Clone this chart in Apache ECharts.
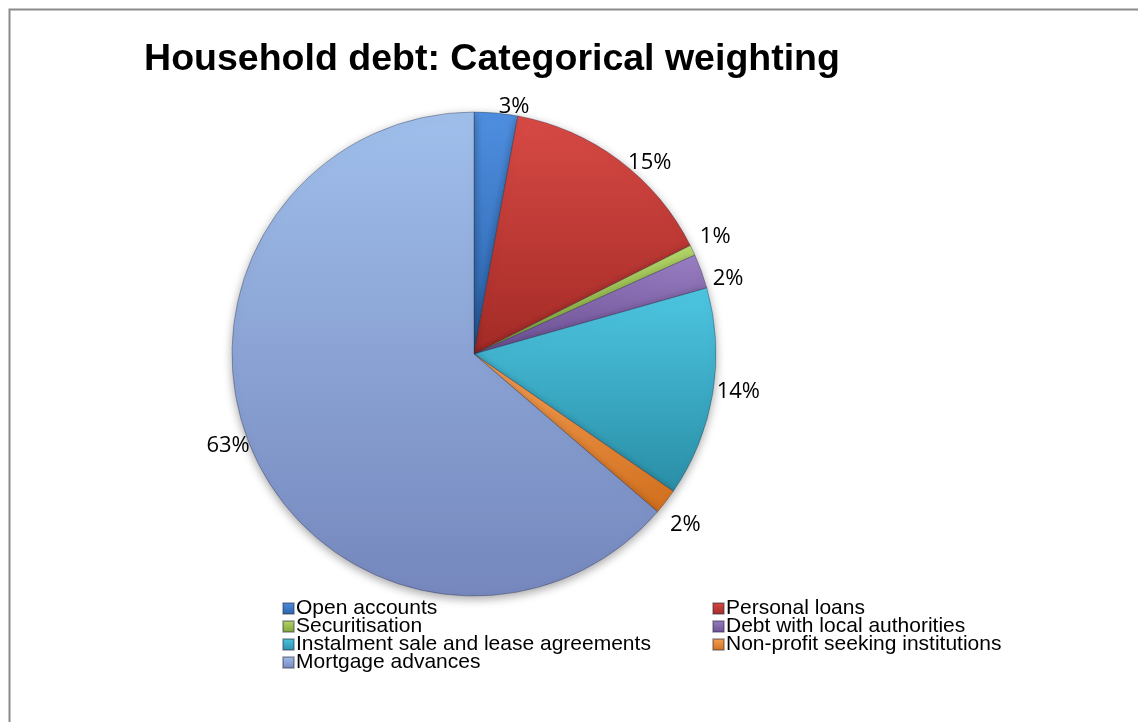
<!DOCTYPE html>
<html>
<head>
<meta charset="utf-8">
<script src="https://cdn.jsdelivr.net/npm/echarts@6/dist/echarts.min.js"></script>
<style>
html,body{margin:0;padding:0;background:#fff;}
#chart{width:1138px;height:722px;}
</style>
</head>
<body>
<div id="chart"></div>
<script>
const categories = [
  'Open accounts',
  'Personal loans',
  'Securitisation',
  'Debt with local authorities',
  'Instalment sale and lease agreements',
  'Non-profit seeking institutions',
  'Mortgage advances'
];
const shares = [2.9, 14.7, 0.7, 2.3, 14.0, 1.7, 63.7];
const percentLabels = ['3%', '15%', '1%', '2%', '14%', '2%', '63%'];
const legendLeft = ['Open accounts', 'Securitisation', 'Instalment sale and lease agreements', 'Mortgage advances'];
const legendRight = ['Personal loans', 'Debt with local authorities', 'Non-profit seeking institutions'];

const palette = [
  ['#4f8fe0', '#2a62aa'],
  ['#d84a45', '#a32a26'],
  ['#b5d86a', '#7fa33a'],
  ['#9a7fc4', '#6a4e92'],
  ['#4dc6e2', '#2a8ea6'],
  ['#f7a156', '#d06e1c'],
  ['#a0bfeb', '#7587bd']
];
const labelShift = [[2,2],[4,9],[0,-10],[3,8],[-4,-3],[-2,18],[3,-13]];
function grad(c){
  return new echarts.graphic.LinearGradient(0,0,0,1,[{offset:0,color:c[0]},{offset:1,color:c[1]}]);
}
const data = categories.map((n,i)=>({
  name:n, value:shares[i],
  itemStyle:{color:grad(palette[i])},
  label:{formatter:percentLabels[i]}
}));

const chart = echarts.init(document.getElementById('chart'));
const legendText = {fontFamily:'Liberation Sans, Arial, sans-serif', fontSize:21, color:'#000', padding:[0,0,0,-3]};
chart.setOption({
  animation:false,
  backgroundColor:'#fff',
  title:{
    text:'Household debt: Categorical weighting',
    left:487, top:36, textAlign:'center',
    textStyle:{fontFamily:'Liberation Sans, Arial, sans-serif', fontWeight:'bold', fontSize:37.5, color:'#000'}
  },
  graphic:[{
    type:'rect', left:7, top:7,
    shape:{x:0,y:0,width:1200,height:800},
    style:{fill:'none', stroke:'#8a8a8a', lineWidth:2}
  }],
  legend:[{
    data:legendLeft, orient:'vertical', left:282, top:598, padding:0,
    icon:'rect', itemWidth:11, itemHeight:11, itemGap:-3,
    textStyle:legendText
  },{
    data:legendRight, orient:'vertical', left:712, top:598, padding:0,
    icon:'rect', itemWidth:11, itemHeight:11, itemGap:-3,
    textStyle:legendText
  }],
  series:[{
    type:'pie',
    center:[474,354],
    radius:242,
    startAngle:90,
    clockwise:true,
    data:data,
    itemStyle:{borderColor:'rgba(40,40,60,0.35)', borderWidth:1, shadowBlur:10, shadowColor:'rgba(0,0,0,0.35)', shadowOffsetY:3},
    label:{show:true, position:'outside', fontFamily:'Open Sans, sans-serif', fontSize:22, color:'#000', distanceToLabelLine:0},
    labelLine:{show:false, length:8, length2:0},
    labelLayout:function(p){ const s = labelShift[p.dataIndex]; return {dx:s[0], dy:s[1]}; },
    emphasis:{disabled:true}
  }]
});
</script>
</body>
</html>
